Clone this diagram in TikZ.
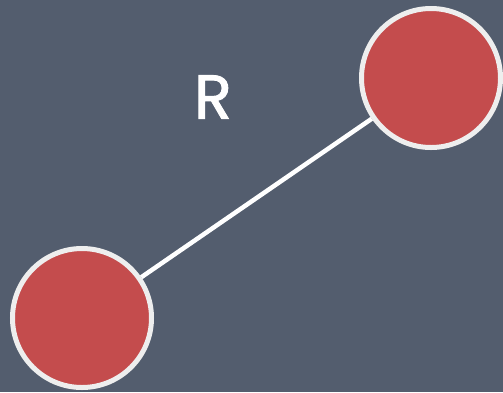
\documentclass[tikz,border=0pt]{standalone}
\usepackage{fontspec}
\newfontfamily\labelfont[FakeBold=1.5]{Poppins}
\definecolor{board}{HTML}{535D6E}
\definecolor{ball}{HTML}{C44C4D}
\definecolor{rim}{HTML}{EEEEEE}
\begin{document}
\begin{tikzpicture}[x=1pt,y=-1pt,
  ballnode/.style={circle,fill=ball,draw=rim,line width=5pt,minimum size=139pt,inner sep=0pt},
  link/.style={draw=white,line width=4.5pt}]
\fill[board] (0,0) rectangle (503,392);
\useasboundingbox (0,0) rectangle (503,392);
\node[ballnode] (b) at (82,318) {};
\node[ballnode] (a) at (431,78) {};
\draw[link] (b) -- (a);
\node[text=white,inner sep=0pt,font=\labelfont\fontsize{62}{62}\selectfont] (r) at (213,97) {R};
\end{tikzpicture}
\end{document}
